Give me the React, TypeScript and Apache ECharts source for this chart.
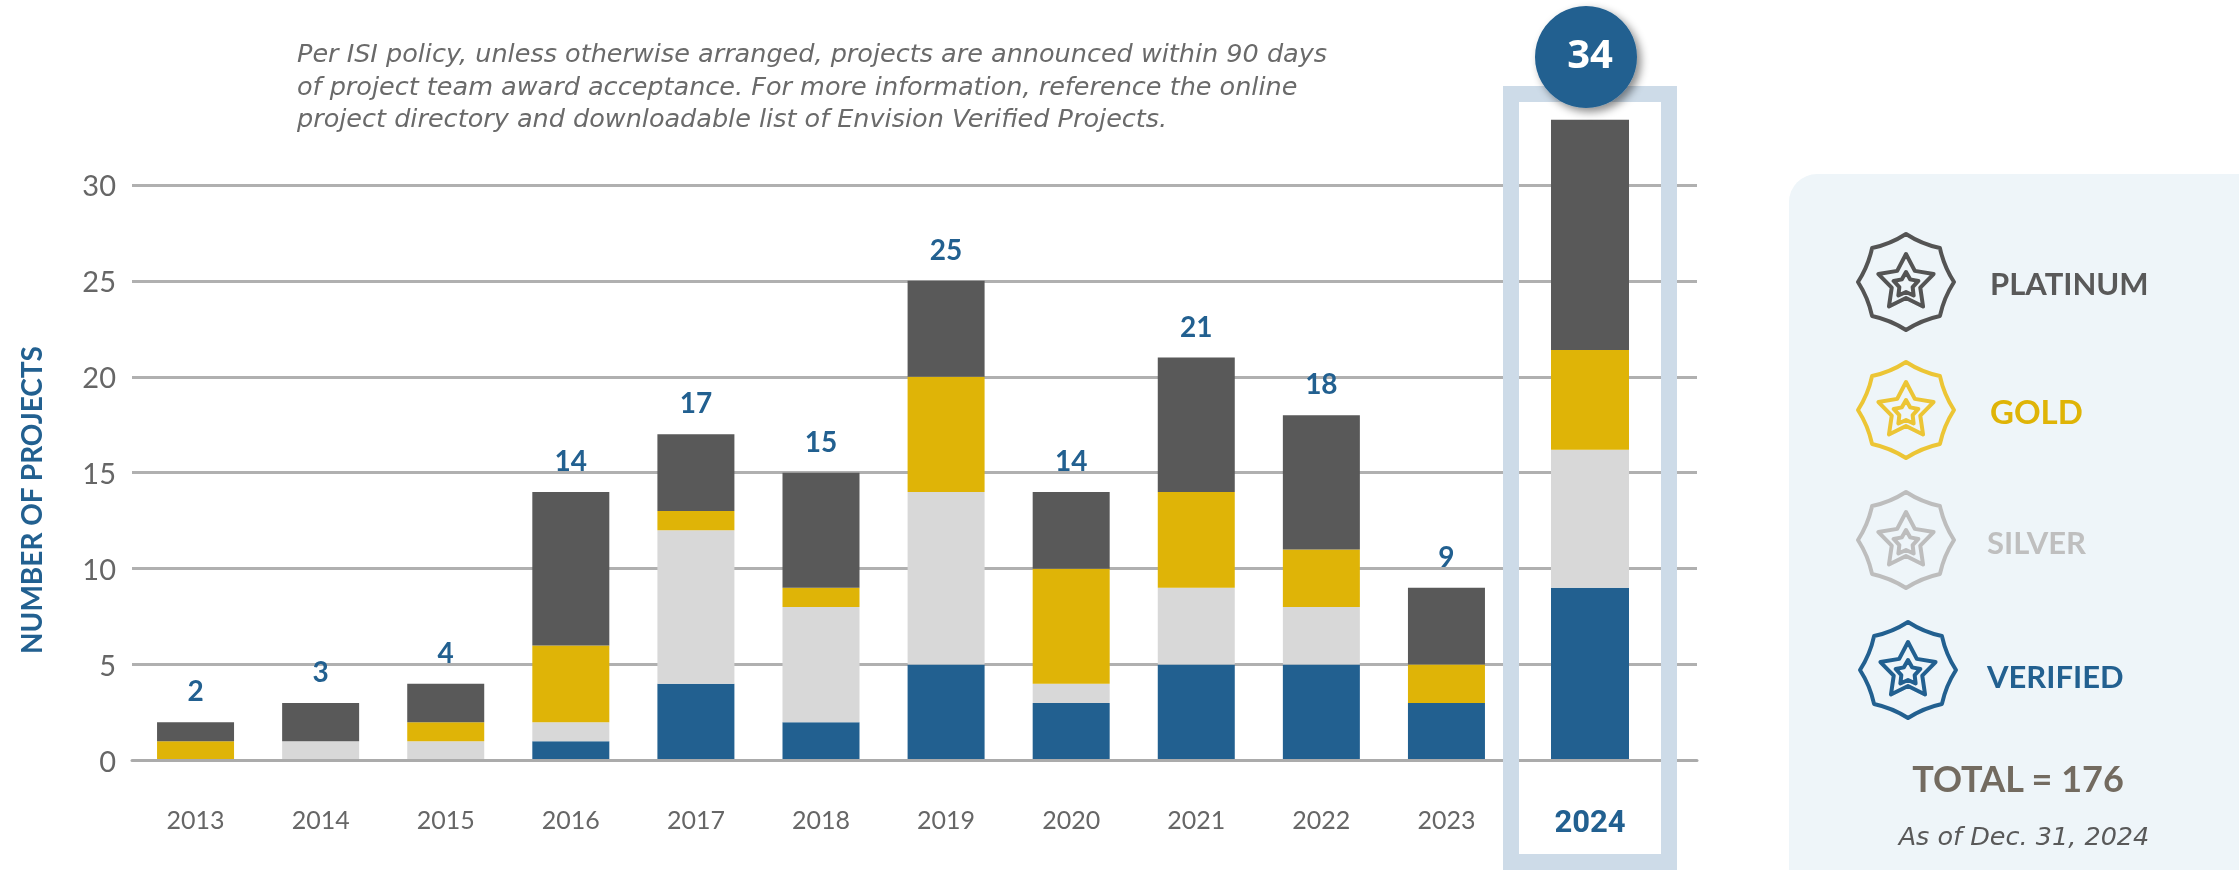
import React, { useEffect, useRef } from "react";
import * as echarts from "echarts";

const years = ["2013", "2014", "2015", "2016", "2017", "2018", "2019", "2020", "2021", "2022", "2023"];
const verified = [0, 0, 0, 1, 4, 2, 5, 3, 5, 5, 3];
const silver = [0, 1, 1, 1, 8, 6, 9, 1, 4, 3, 0];
const gold = [1, 0, 1, 4, 1, 1, 6, 6, 5, 3, 2];
const platinum = [1, 2, 2, 8, 4, 6, 5, 4, 7, 7, 4];
const totals = [2, 3, 4, 14, 17, 15, 25, 14, 21, 18, 9];

const highlightYear = ["2024"];
const highlightVerified = [9];
const highlightSilver = [7.2];
const highlightGold = [5.2];
const highlightPlatinum = [12];
const highlightTotal = "34";

const noteLines = [
  "Per ISI policy, unless otherwise arranged, projects are announced within 90 days",
  "of project team award acceptance. For more information, reference the online",
  "project directory and downloadable list of Envision Verified Projects.",
];
const legendNames = ["PLATINUM", "GOLD", "SILVER", "VERIFIED"];

const BLUE = "#226090";
const GOLD = "#dfb407";
const SILVER = "#d8d8d8";
const DARK = "#595959";

const pt = (r: number, deg: number) => {
  const a = (deg * Math.PI) / 180;
  return [(r * Math.cos(a)).toFixed(2), (r * Math.sin(a)).toFixed(2)];
};
const badgeOuter = () => {
  let d = "";
  for (let i = 0; i < 8; i++) {
    const a = -90 + i * 45;
    const [x, y] = pt(48, a);
    const [cx, cy] = pt(41, a + 22.5);
    const [nx, ny] = pt(48, a + 45);
    if (i === 0) d += `M${x} ${y}`;
    d += `Q${cx} ${cy} ${nx} ${ny}`;
  }
  return d + "Z";
};
const starPath = (R: number, r: number, dy: number) => {
  let d = "";
  for (let i = 0; i < 10; i++) {
    const [x, y] = pt(i % 2 ? r : R, -90 + i * 36);
    d += `${i ? "L" : "M"}${x} ${Number(y) + dy}`;
  }
  return d + "Z";
};
echarts.graphic.registerShape("badgeIcon", echarts.graphic.extendPath(badgeOuter() + starPath(29, 15, 1) + starPath(13, 7, 3), {}));

const yAxisBase = {
  type: "value",
  min: 0,
  max: 35,
  interval: 5,
};

export default function App() {
  const ref = useRef<HTMLDivElement>(null);
  useEffect(() => {
    document.body.style.margin = "0";
    const chart = echarts.init(ref.current!, undefined, { renderer: "svg" });
    const badge = (x: number, y: number, color: string) => ({
      type: "badgeIcon",
      x,
      y,
      z: 6,
      style: { fill: "none", stroke: color, lineWidth: 4, lineJoin: "round" },
    });
    const txt = (x: number, y: number, text: string, font: string, fill: string, align = "left", z = 6) => ({
      type: "text",
      z,
      style: { x, y, text, font, fill, align, verticalAlign: "middle" },
    });
    const barSeries = (name: string, data: number[], color: string, idx: number, label?: any) => ({
      name,
      type: "bar",
      stack: "s" + idx,
      xAxisIndex: idx,
      yAxisIndex: idx,
      barWidth: idx === 1 ? 77 : 78,
      data,
      itemStyle: { color },
      label,
    });
    chart.setOption({
      animation: false,
      grid: [
        { left: 132, width: 1565, top: 89, height: 671.5 },
        { left: 133, width: 1376, top: 89, height: 671.5 },
        { left: 1527.5, width: 125, top: 89, height: 671.5 },
      ],
      xAxis: [
        {
          gridIndex: 0,
          type: "value",
          min: 0,
          max: 1,
          z: 3,
          splitLine: { show: false },
          axisTick: { show: false },
          axisLabel: { show: false },
          axisLine: { show: true, lineStyle: { color: "#ababab", width: 3 } },
        },
        {
          gridIndex: 1,
          type: "category",
          data: years,
          axisLine: { show: false },
          axisTick: { show: false },
          axisLabel: { margin: 46, fontSize: 25, fontFamily: "Lato", fontWeight: 400, color: "#666666" },
        },
        {
          gridIndex: 2,
          type: "category",
          data: highlightYear,
          axisLine: { show: false },
          axisTick: { show: false },
          axisLabel: { margin: 45, fontSize: 31, fontFamily: "Roboto", fontWeight: "bold", color: BLUE },
        },
      ],
      yAxis: [
        {
          ...yAxisBase,
          gridIndex: 0,
          axisLine: { show: false },
          axisTick: { show: false },
          axisLabel: { margin: 16, showMaxLabel: false, fontSize: 29, fontFamily: "Lato", fontWeight: 400, color: "#666666" },
          splitLine: { show: true, showMaxLine: false, showMinLine: false, lineStyle: { color: "#b0b0b0", width: 3 } },
        },
        { ...yAxisBase, gridIndex: 1, show: false },
        { ...yAxisBase, gridIndex: 2, show: false },
      ],
      series: [
        barSeries("Verified", verified, BLUE, 1),
        barSeries("Silver", silver, SILVER, 1),
        barSeries("Gold", gold, GOLD, 1),
        barSeries("Platinum", platinum, DARK, 1, {
          show: true,
          position: "top",
          distance: 18,
          fontSize: 28,
          fontWeight: "bold",
          fontFamily: "Lato",
          color: BLUE,
          formatter: (p: any) => String(totals[p.dataIndex]),
        }),
        barSeries("Verified", highlightVerified, BLUE, 2),
        barSeries("Silver", highlightSilver, SILVER, 2),
        barSeries("Gold", highlightGold, GOLD, 2),
        barSeries("Platinum", highlightPlatinum, DARK, 2),
      ],
      graphic: [
        {
          type: "text",
          z: 6,
          rotation: Math.PI / 2,
          x: 31,
          y: 500,
          style: {
            x: 0,
            y: 0,
            text: "NUMBER OF PROJECTS",
            font: "bold 28px Lato",
            fill: BLUE,
            align: "center",
            verticalAlign: "middle",
          },
        },
        {
          type: "text",
          z: 6,
          style: {
            x: 297,
            y: 37,
            text: noteLines.join("\n"),
            font: "italic 400 25.5px 'DejaVu Sans'",
            lineHeight: 32.5,
            fill: "#6a6a6a",
            align: "left",
            verticalAlign: "top",
          },
        },
        {
          type: "rect",
          z: 4,
          shape: { x: 1511, y: 94, width: 158, height: 768 },
          style: { fill: "none", stroke: "#cddbe8", lineWidth: 16 },
        },
        {
          type: "circle",
          z: 5,
          shape: { cx: 1586, cy: 57, r: 51 },
          style: { fill: BLUE, shadowBlur: 8, shadowOffsetX: 4, shadowOffsetY: 4, shadowColor: "rgba(0,0,0,0.45)" },
        },
        txt(1590, 52, highlightTotal, "bold 40px 'Open Sans'", "#ffffff", "center"),
        {
          type: "rect",
          z: 1,
          shape: { x: 1789, y: 174, width: 480, height: 730, r: 28 },
          style: { fill: "#eef5f9" },
        },
        badge(1906, 282, "#545454"),
        badge(1906, 410, "#ecc535"),
        badge(1906, 540, "#bdbdbd"),
        badge(1908, 670, BLUE),
        txt(1990, 283, legendNames[0], "bold 31px Lato", DARK),
        txt(1990, 411, legendNames[1], "bold 33px Lato", GOLD),
        txt(1987, 542, legendNames[2], "bold 31px Lato", "#bfbfbf"),
        txt(1987, 676, legendNames[3], "bold 31px Lato", BLUE),
        txt(2018, 778, "TOTAL = 176", "bold 36px Lato", "#736b60", "center"),
        txt(2024, 836, "As of Dec. 31, 2024", "italic 25.5px 'DejaVu Sans'", "#595959", "center"),
      ],
    });
    return () => chart.dispose();
  }, []);
  return <div ref={ref} style={{ position: "fixed", left: 0, top: 0, width: 2239, height: 870, overflow: "hidden" }} />;
}
